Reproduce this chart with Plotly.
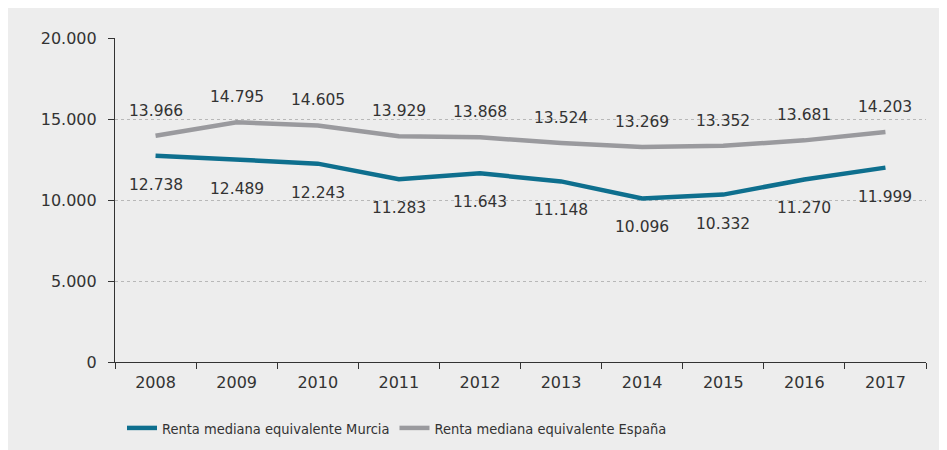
import plotly.graph_objects as go

years = ["2008", "2009", "2010", "2011", "2012", "2013", "2014", "2015", "2016", "2017"]
murcia = [12738, 12489, 12243, 11283, 11643, 11148, 10096, 10332, 11270, 11999]
espana = [13966, 14795, 14605, 13929, 13868, 13524, 13269, 13352, 13681, 14203]
name_murcia = "Renta mediana equivalente Murcia"
name_espana = "Renta mediana equivalente España"

BLUE = "#0e6f8e"
GRAY = "#9a9a9e"
TXT = "#333333"
NUMFONT = "DejaVu Sans"

def fmt(v):
    return f"{v:,}".replace(",", ".")

fig = go.Figure()
fig.add_trace(go.Scatter(x=years, y=murcia, name=name_murcia, mode="lines",
                         line=dict(color=BLUE, width=4.5)))
fig.add_trace(go.Scatter(x=years, y=espana, name=name_espana, mode="lines",
                         line=dict(color=GRAY, width=4.5)))

annotations = []
for i, v in enumerate(espana):
    annotations.append(dict(x=i, y=v, xref="x", yref="y", text=fmt(v), showarrow=False,
                            yshift=25, font=dict(family=NUMFONT, size=15.5, color=TXT)))
for i, v in enumerate(murcia):
    annotations.append(dict(x=i, y=v, xref="x", yref="y", text=fmt(v), showarrow=False,
                            yshift=-29, font=dict(family=NUMFONT, size=15.5, color=TXT)))

W, H = 947, 450
L, R, T, B = 107, 29, 30, 96
pw, ph = W - L - R, H - T - B

fig.update_layout(
    width=W, height=H,
    margin=dict(l=L, r=R, t=T, b=B, pad=0, autoexpand=False),
    paper_bgcolor="#ededed",
    plot_bgcolor="#ededed",
    separators=",.",
    annotations=annotations,
    showlegend=True,
    legend=dict(orientation="h", x=7 / pw, xanchor="left",
                y=-(420 - (H - B)) / ph, yanchor="middle",
                font=dict(family="DejaVu Sans Condensed", size=14.5, color=TXT),
                bgcolor="rgba(0,0,0,0)", itemwidth=30, tracegroupgap=0),
    xaxis=dict(type="category", range=[-0.5, 9.5], tickson="boundaries",
               ticks="outside", ticklen=6, tickcolor=TXT, tickwidth=1.2,
               ticklabelstandoff=6,
               showline=True, linecolor=TXT, linewidth=1.2, showgrid=False,
               tickfont=dict(family=NUMFONT, size=16, color=TXT)),
    yaxis=dict(range=[0, 20000], dtick=5000, tickformat=",d",
               ticks="outside", ticklen=6, tickcolor=TXT, tickwidth=1.2,
               ticklabelstandoff=8,
               showline=True, linecolor=TXT, linewidth=1.2,
               showgrid=True, gridcolor="#b8b8b8", griddash="dot", gridwidth=1,
               zeroline=False,
               tickfont=dict(family=NUMFONT, size=16, color=TXT)),
)

fig.write_html("out.html")
